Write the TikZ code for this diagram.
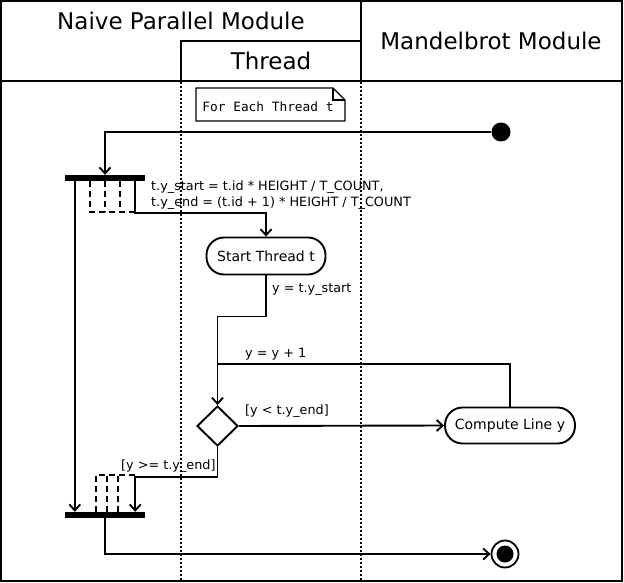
\documentclass[tikz,border=0pt]{standalone}
\usepackage{fontspec}
\setmainfont{DejaVu Sans}
\newfontfamily\monof{DejaVu Sans Mono}
\usetikzlibrary{arrows.meta,shapes.geometric}
\tikzset{
  ln/.style={line width=1.9pt},
  arr/.style={ln,-{Straight Barb[length=6pt,width=11pt,line width=1.9pt]}},
  action/.style={draw,ln,rounded corners=17.5pt,inner sep=0pt,font=\fontsize{14}{16}\selectfont},
  bar/.style={fill=black,minimum width=80pt,minimum height=6pt,inner sep=0pt},
  lbl/.style={anchor=west,inner sep=0pt,font=\fontsize{12.8}{16}\selectfont},
  hdr/.style={inner sep=0pt,font=\fontsize{23}{26}\selectfont},
  lane/.style={line width=1.8pt,dash pattern=on 2pt off 2pt},
  multi/.style={line width=1.8pt,dash pattern=on 6pt off 4pt}
}
\begin{document}
\begin{tikzpicture}[x=1pt,y=-1pt]
\useasboundingbox (0,0) rectangle (624,583);
% frame and lanes
\draw[line width=2pt] (1,1) rectangle (622,581);
\draw[line width=2pt] (1,81) -- (622,81);
\draw[line width=2pt] (361,1) -- (361,81);
\draw[line width=2pt] (181,81) -- (181,41) -- (361,41);
\draw[lane] (181,82) -- (181,580);
\draw[lane] (361,82) -- (361,580);
\node[hdr] (h1) at (181,21) {Naive Parallel Module};
\node[hdr] (h2) at (271,61) {Thread};
\node[hdr] (h3) at (491,41) {Mandelbrot Module};
% note
\draw[line width=1.4pt] (196,88) -- (333,88) -- (345,100) -- (345,121) -- (196,121) -- cycle;
\draw[line width=1.4pt] (333,88) -- (333,100) -- (345,100);
\node[inner sep=0pt,font=\monof\fontsize{12.8}{14}\selectfont] (note) at (268,107) {For Each Thread t};
% nodes
\node[circle,fill=black,minimum size=19pt,inner sep=0pt] (init) at (501,132) {};
\node[bar] (fork) at (105,178) {};
\node[bar] (join) at (105,515) {};
\node[action,minimum width=119pt,minimum height=37pt] (start) at (266,256) {Start Thread t};
\node[action,minimum width=130pt,minimum height=36pt] (comp) at (510,425.5) {Compute Line y};
\node[diamond,draw,ln,aspect=1,minimum width=41pt,minimum height=40pt,inner sep=0pt] (dia) at (217.5,426) {};
\node[circle,draw,line width=1.8pt,minimum size=27pt,inner sep=0pt] (final) at (505,554) {};
\node[circle,fill=black,minimum size=17pt,inner sep=0pt] (finalin) at (505,554) {};
\coordinate (loopj) at (217,364);
% multiple-instance marks
\draw[multi] ([xshift=-15pt]fork.south) -- ++(0,31) -- ++(45,0);
\draw[multi] (fork.south) -- ++(0,31);
\draw[multi] ([xshift=15pt]fork.south) -- ++(0,31);
\draw[multi] ([xshift=-9pt]join.north) -- ++(0,-37) -- ++(39,0);
\draw[multi] ([xshift=2pt]join.north) -- ++(0,-37);
\draw[multi] ([xshift=13pt]join.north) -- ++(0,-37);
% connectors
\draw[arr] (init.west) -| (fork.north);
\draw[arr] ([xshift=10pt]fork.south west) -- ([xshift=10pt]join.north west);
\draw[arr] ([xshift=-10pt]fork.south east) -- ++(0,32) -| (start.north);
\node[lbl,align=left] (l1) at (151,195) {t.y\_start = t.id * HEIGHT / T\_COUNT,\\t.y\_end = (t.id + 1) * HEIGHT / T\_COUNT};
\draw[arr] (start.south) -- ++(0,41) -| (dia.north);
\node[lbl] (l2) at (272,290) {y = t.y\_start};
\draw[ln] (comp.north) |- (loopj);
\node[lbl] (l3) at (245,354) {y = y + 1};
\draw[arr] (dia.east) -- (comp.west);
\node[lbl] (l4) at (245,411) {[y < t.y\_end]};
\draw[arr] (dia.south) -- ++(0,30) -| ([xshift=-10pt]join.north east);
\node[lbl] (l5) at (121,466) {[y >= t.y\_end]};
\draw[arr] (join.south) |- (final.west);
\end{tikzpicture}
\end{document}
